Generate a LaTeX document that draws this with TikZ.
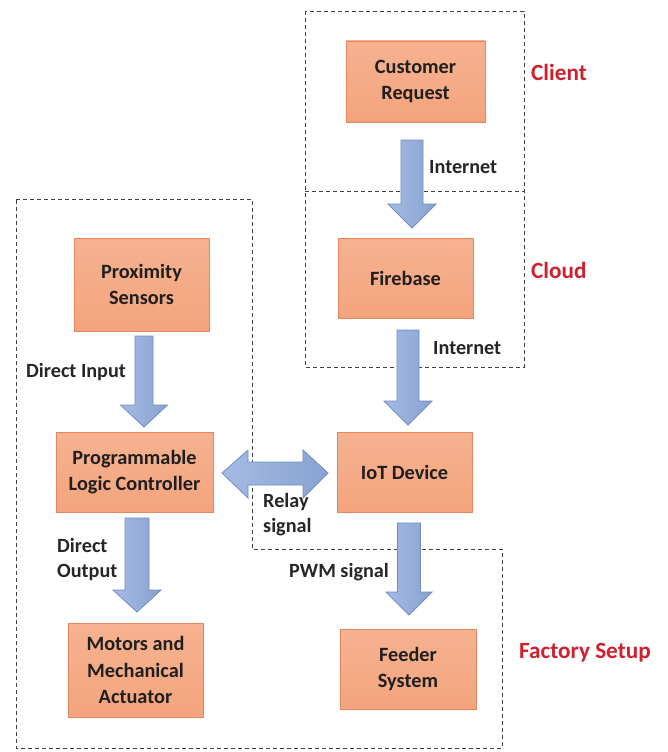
\documentclass[tikz,border=0pt]{standalone}
\usepackage{fontspec}
\setmainfont{Carlito}
\definecolor{boxfill}{HTML}{F4A47D}
\definecolor{boxline}{HTML}{E2875E}
\definecolor{arrfill}{HTML}{8FAADC}
\definecolor{arrline}{HTML}{6F8CC8}
\definecolor{lblred}{HTML}{D0202E}
\definecolor{dashc}{HTML}{404040}
\tikzset{
  procbox/.style={draw=boxline, line width=0.8pt, top color=boxfill!85!white, bottom color=boxfill, align=center,
    font=\fontsize{20.3}{26.5}\selectfont\bfseries, text=black!88, inner sep=2pt},
  blockarrow/.style={draw=arrline, line width=0.8pt, left color=arrfill!80!white, right color=arrfill!95!black},
  plainlbl/.style={font=\fontsize{20.2}{25}\selectfont\bfseries, text=black!85, align=left, inner sep=0pt},
  grouplbl/.style={font=\fontsize{23.2}{26}\selectfont\bfseries, text=lblred, inner sep=0pt, anchor=west},
  groupbox/.style={draw=dashc, line width=0.9pt, dash pattern=on 4pt off 3pt}
}
\newcommand\blockdown[6]{% cx, top, tip, shaftw, headw, headlen
  \path[blockarrow] ({#1-#4/2},#2) -- ({#1+#4/2},#2) -- ({#1+#4/2},{#3-#6}) -- ({#1+#5/2},{#3-#6})
    -- (#1,#3) -- ({#1-#5/2},{#3-#6}) -- ({#1-#4/2},{#3-#6}) -- cycle;}
\begin{document}
\begin{tikzpicture}[x=1pt,y=-1pt]
\useasboundingbox[fill=white] (0,0) rectangle (667,752);
% group boxes
\draw[groupbox] (305,11) rectangle (524,367);
\draw[groupbox] (305,191) -- (524,191);
\draw[groupbox] (16,199) -- (252,199) -- (252,549) -- (502,549) -- (502,748) -- (16,748) -- cycle;
% boxes
\node[procbox, minimum width=139pt, minimum height=81pt] (cust) at (415.5,81.5) {Customer\\Request};
\node[procbox, minimum width=135pt, minimum height=80pt] (fire) at (405.5,278) {Firebase};
\node[procbox, minimum width=135pt, minimum height=93pt] (prox) at (141.5,284.5) {Proximity\\Sensors};
\node[procbox, minimum width=157pt, minimum height=80pt] (plc) at (134.5,472) {Programmable\\Logic Controller};
\node[procbox, minimum width=135pt, minimum height=80pt] (iot) at (404.5,472) {IoT Device};
\node[procbox, minimum width=135pt, minimum height=94pt] (motor) at (135.5,670) {Motors and\\Mechanical\\Actuator};
\node[procbox, minimum width=136pt, minimum height=80pt] (feed) at (408,669) {Feeder\\System};
% group labels
\node[grouplbl] (lclient) at (531,72) {Client};
\node[grouplbl] (lcloud) at (531,270) {Cloud};
\node[grouplbl] (lfact) at (519,653) {Factory Setup};
% block arrows
\blockdown{412}{140}{228}{22}{48}{24}
\blockdown{408}{330}{425}{22}{48}{24}
\blockdown{144}{336}{427}{18}{47}{22}
\blockdown{137}{518}{612}{24}{48}{22}
\blockdown{409}{523}{615}{23}{46}{23}
\path[blockarrow] (222,473) -- (248,450) -- (248,462) -- (303,462) -- (303,450) -- (328,473)
  -- (303,498) -- (303,485) -- (248,485) -- (248,498) -- cycle;
% connector labels
\node[plainlbl, anchor=west] (l1) at (429,167) {Internet};
\node[plainlbl, anchor=west] (l2) at (433,348) {Internet};
\node[plainlbl, anchor=west] (l3) at (26,372) {Direct Input};
\node[plainlbl, anchor=west] (l4) at (263,515) {Relay\\signal};
\node[plainlbl, anchor=west] (l5) at (57,559) {Direct\\Output};
\node[plainlbl, anchor=west] (l6) at (289,572) {PWM signal};
\end{tikzpicture}
\end{document}
